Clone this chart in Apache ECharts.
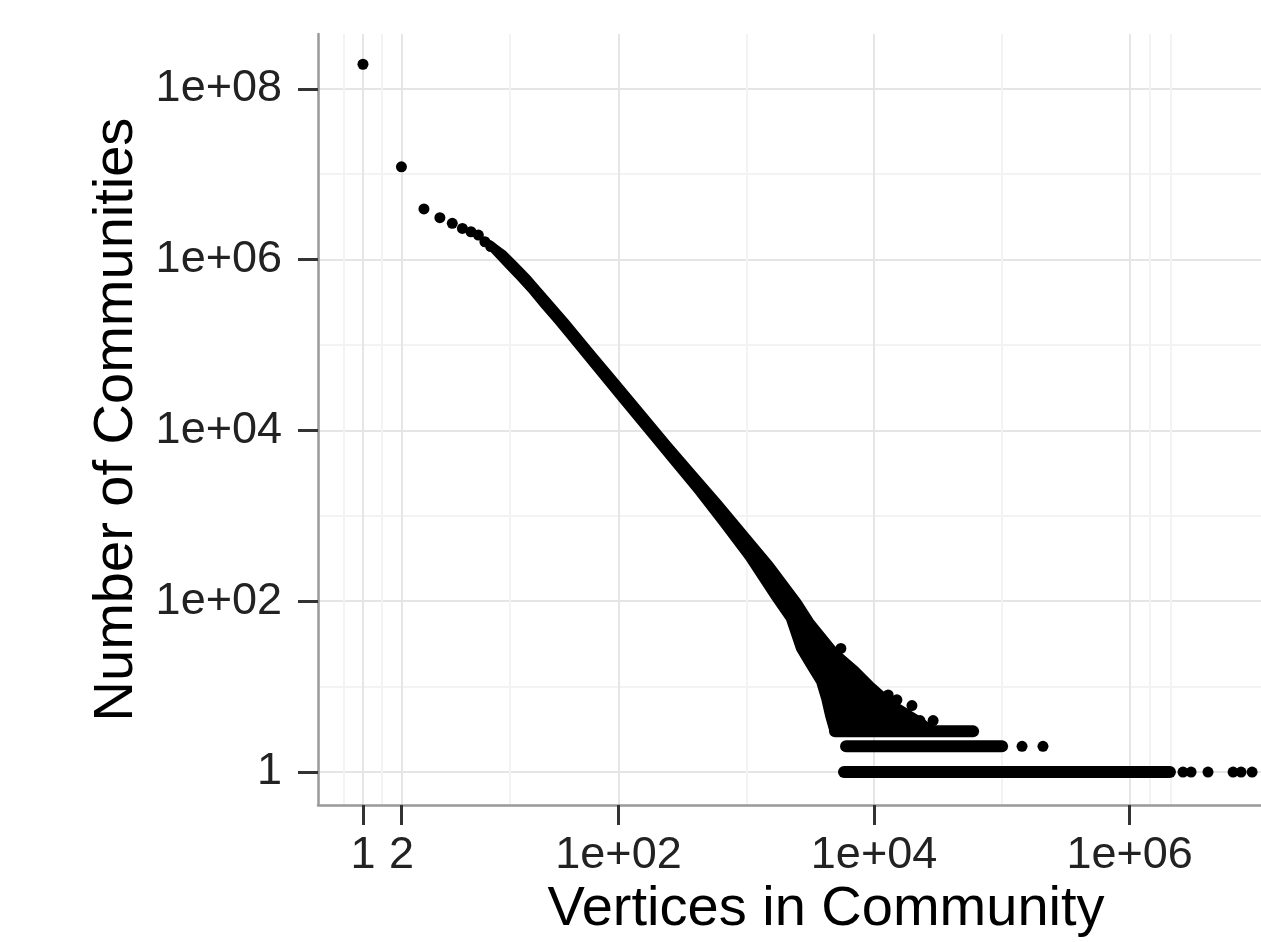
<!DOCTYPE html>
<html>
<head>
<meta charset="utf-8">
<title>Community sizes</title>
<script src="https://cdn.jsdelivr.net/npm/echarts@6/dist/echarts.min.js"></script>
<style>
  html, body { margin: 0; padding: 0; background: #fff; }
  #main { width: 1261px; height: 942px; }
</style>
</head>
<body>
<div id="main"></div>
<script>
// axis breaks (ggplot style log10 axes)
var xTickValues = [1, 2, 100, 1e4, 1e6];
var xTickLabels = ['1', '2', '1e+02', '1e+04', '1e+06'];
var yTickValues = [1, 100, 1e4, 1e6, 1e8];
var yTickLabels = ['1', '1e+02', '1e+04', '1e+06', '1e+08'];
var xMinorValues = [0.708, 1.413, 14.1, 1e3, 1e5, 1.45e6, 2.09e6];
var yMinorValues = [10, 1e3, 1e5, 1e7];

// smallest community sizes, one point each
var smallSizes = [1, 2, 3, 4, 5, 6, 7, 8, 9, 10];
var smallCounts = [1.94e8, 1.22e7, 3.92e6, 3.10e6, 2.66e6, 2.32e6, 2.12e6, 1.94e6, 1.62e6, 1.42e6];

// the dense band of points: upper and lower edge
var bandUpperSizes = [10, 13, 16, 20, 25, 32, 40, 63, 100, 160, 250, 400, 630, 1000, 1590, 2640, 3330, 5130, 7360, 9820, 13800, 22900, 28200, 28200];
var bandUpperCounts = [1.66e6, 1.24e6, 9.1e5, 6.46e5, 4.42e5, 2.89e5, 1.97e5, 8.61e4, 3.8e4, 1.63e4, 7330, 3240, 1480, 646, 282, 103, 60, 27, 17, 11, 7, 4.4, 3.5, 3];
var bandLowerSizes = [10, 13, 16, 20, 25, 32, 40, 63, 100, 160, 250, 400, 630, 1000, 1620, 2080, 2490, 2990, 3580, 3920, 4210, 4530];
var bandLowerCounts = [1.26e6, 8.3e5, 6.0e5, 4.17e5, 2.79e5, 1.82e5, 1.22e5, 53100, 22900, 9800, 4360, 1860, 776, 309, 103, 60, 27, 17, 11, 7, 4.4, 3];

// long runs of communities with 1, 2 and 3 members
var rowCounts = [1, 2, 3];
var rowFrom = [5820, 6040, 4950];
var rowTo = [2070000, 100500, 59600];

// stray points above the band and at the end of the runs
var straySizes = [5500, 12900, 15100, 19800, 22900, 29000, 144000, 210000, 2620000, 3030000, 4110000, 6460000, 7460000, 9100000];
var strayCounts = [28, 8, 7, 6, 4, 4, 2, 2, 1, 1, 1, 1, 1, 1];

var lg = Math.log10;
var font = "'Liberation Sans', Arial, Helvetica, sans-serif";

function tickLabel(values, labels) {
  return function (v) {
    for (var i = 0; i < values.length; i++) {
      if (Math.abs(lg(values[i]) - v) < 1e-6) return labels[i];
    }
    return '';
  };
}

function pairs(xs, ys) {
  return xs.map(function (x, i) { return [lg(x), lg(ys[i])]; });
}

var bandPoints = pairs(bandUpperSizes, bandUpperCounts)
  .concat(pairs(bandLowerSizes, bandLowerCounts).reverse());

var xMin = -0.352, xMax = 7.6, yMin = -0.386, yMax = 8.642;

var majorLine = { show: true, lineStyle: { color: '#e5e5e5', width: 2 } };
var minorLine = { show: true, lineStyle: { color: '#f3f3f3', width: 2 } };

var myChart = echarts.init(document.getElementById('main'));

var rowSeries = rowCounts.map(function (c, i) {
  return {
    type: 'line',
    xAxisIndex: 0, yAxisIndex: 0,
    data: [[lg(rowFrom[i]), lg(c)], [lg(rowTo[i]), lg(c)]],
    symbol: 'none',
    lineStyle: { color: '#000', width: 12, cap: 'round', opacity: 1 },
    silent: true
  };
});

var option = {
  animation: false,
  backgroundColor: '#fff',
  grid: { left: 318, top: 34, right: -73, bottom: 137, outerBoundsMode: 'none' },
  xAxis: [{
    type: 'value', min: xMin, max: xMax,
    name: 'Vertices in Community', nameLocation: 'middle', nameGap: 77,
    nameMoveOverlap: false,
    nameTextStyle: { fontFamily: font, fontSize: 56, color: '#000' },
    axisLine: { show: true, onZero: false, lineStyle: { color: '#999', width: 2.5 } },
    axisTick: { show: true, length: 20, customValues: xTickValues.map(lg), lineStyle: { color: '#333', width: 3 } },
    axisLabel: { customValues: xTickValues.map(lg), formatter: tickLabel(xTickValues, xTickLabels),
      margin: 28, fontFamily: font, fontSize: 45, color: '#222' },
    splitLine: majorLine
  }, {
    type: 'value', min: xMin, max: xMax, position: 'bottom',
    axisLine: { show: false, onZero: false },
    axisTick: { show: false, customValues: xMinorValues.map(lg) },
    axisLabel: { show: false, customValues: xMinorValues.map(lg) },
    splitLine: minorLine
  }],
  yAxis: [{
    type: 'value', min: yMin, max: yMax,
    name: 'Number of Communities', nameLocation: 'middle', nameGap: 173,
    nameMoveOverlap: false,
    nameTextStyle: { fontFamily: font, fontSize: 56, color: '#000' },
    axisLine: { show: true, onZero: false, lineStyle: { color: '#999', width: 2.5 } },
    axisTick: { show: true, length: 20, customValues: yTickValues.map(lg), lineStyle: { color: '#333', width: 3 } },
    axisLabel: { customValues: yTickValues.map(lg), formatter: tickLabel(yTickValues, yTickLabels),
      margin: 36, fontFamily: font, fontSize: 45, color: '#222' },
    splitLine: majorLine
  }, {
    type: 'value', min: yMin, max: yMax, position: 'left',
    axisLine: { show: false, onZero: false },
    axisTick: { show: false, customValues: yMinorValues.map(lg) },
    axisLabel: { show: false, customValues: yMinorValues.map(lg) },
    splitLine: minorLine
  }],
  series: [{
    type: 'custom',
    xAxisIndex: 0, yAxisIndex: 0,
    data: [[0, 0]],
    silent: true,
    renderItem: function (params, api) {
      return {
        type: 'polygon',
        shape: { points: bandPoints.map(function (p) { return api.coord(p); }) },
        style: { fill: '#000', stroke: '#000', lineWidth: 1.5, lineJoin: 'round' }
      };
    }
  }].concat(rowSeries).concat([{
    type: 'scatter',
    xAxisIndex: 0, yAxisIndex: 0,
    symbolSize: 11,
    itemStyle: { color: '#000', opacity: 1 },
    data: pairs(smallSizes, smallCounts).concat(pairs(straySizes, strayCounts)),
    silent: true
  }])
};

myChart.setOption(option);
</script>
</body>
</html>
